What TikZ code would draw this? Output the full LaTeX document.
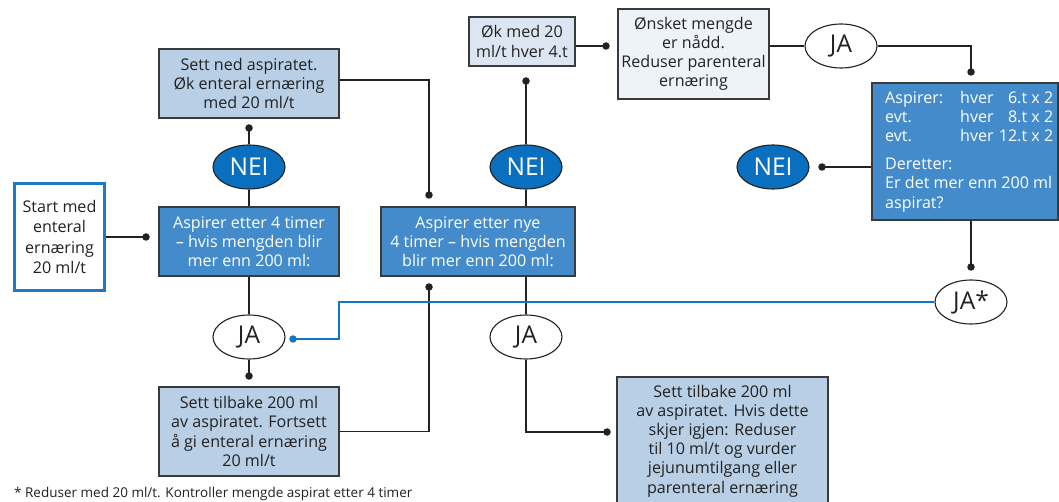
\documentclass[tikz,border=0pt]{standalone}
\usepackage{fontspec}
\setmainfont{Open Sans}
\usetikzlibrary{shapes.geometric}
\definecolor{lightbox}{HTML}{B8CFE6}
\definecolor{midbox}{HTML}{438BCA}
\definecolor{paleA}{HTML}{DCE6F2}
\definecolor{paleB}{HTML}{EEF3F9}
\definecolor{neiblue}{HTML}{0A6FBF}
\definecolor{lineblue}{HTML}{1376C4}
\definecolor{startblue}{HTML}{1C7AC6}
\definecolor{boxline}{HTML}{3A3A3A}
\definecolor{txt}{HTML}{222222}
\newcommand{\bodyfont}{\fontsize{16.1}{19.2}\selectfont}
\begin{document}
\begin{tikzpicture}[x=1pt,y=-1pt,
  every node/.style={font=\bodyfont, align=center, inner sep=0pt, text=txt},
  box/.style={rectangle, draw=boxline, line width=1.3pt},
  lbox/.style={box, fill=lightbox},
  mbox/.style={box, fill=midbox, text=white},
  conn/.style={draw=txt, line width=1.3pt},
  dot/.style={circle, fill=txt, minimum size=7.5pt, inner sep=0pt},
  bdot/.style={circle, fill=lineblue, minimum size=7.5pt, inner sep=0pt},
  bline/.style={draw=lineblue, line width=2.9pt},
  nei/.style={ellipse, draw=txt, line width=1.1pt, fill=neiblue, text=white,
    minimum width=72pt, minimum height=44pt, font=\fontsize{24.5}{24.5}\selectfont},
  ja/.style={ellipse, draw=txt, line width=1.1pt, fill=white,
    minimum width=72pt, minimum height=44pt, font=\fontsize{24.5}{24.5}\selectfont}
]
\useasboundingbox (0,0) rectangle (1059,502);
\fill[white] (0,0) rectangle (1059,502);

% left column
\node[box, draw=startblue, line width=2.4pt, fill=white, minimum width=90pt, minimum height=107pt,
  font=\fontsize{16.1}{20.6}\selectfont] (start) at (59.5,237) {Start med\\enteral\\ernæring\\20 ml/t};
\node[lbox, minimum width=180pt, minimum height=69pt] (setned) at (249,83.5) {Sett ned aspiratet.\\Øk enteral ernæring\\med 20 ml/t};
\node[nei] (nei1) at (249,167) {NEI};
\node[mbox, minimum width=180pt, minimum height=69pt] (asp1) at (249,241.5) {Aspirer etter 4 timer\\– hvis mengden blir\\mer enn 200 ml:};
\node[ja] (ja1) at (249,337) {JA};
\node[lbox, minimum width=180pt, minimum height=89pt] (tilbake) at (249,431.5) {Sett tilbake 200 ml\\av aspiratet. Fortsett\\å gi enteral ernæring\\20 ml/t};

% middle column
\node[mbox, minimum width=194pt, minimum height=69pt] (asp2) at (478,241.5) {Aspirer etter nye\\4 timer – hvis mengden\\blir mer enn 200 ml:};
\node[nei] (nei2) at (526,167) {NEI};
\node[ja] (ja2) at (526,337) {JA};
\node[box, fill=paleA, minimum width=106pt, minimum height=49pt] (oek) at (522,41.5) {Øk med 20\\ml/t hver 4.t};
\node[box, fill=paleB, minimum width=151pt, minimum height=90pt] (onsket) at (693.5,54) {Ønsket mengde\\er nådd.\\Reduser parenteral\\ernæring};
\node[lbox, minimum width=211pt, minimum height=128pt] (final) at (722.5,441) {Sett tilbake 200 ml\\av aspiratet. Hvis dette\\skjer igjen: Reduser\\til 10 ml/t og vurder\\jejunumtilgang eller\\parenteral ernæring};

% right column
\node[ja] (ja3) at (841,46) {JA};
\node[mbox, minimum width=186pt, minimum height=137pt] (big) at (965,151.5) {};
\node[anchor=west, align=left, text=white] (bigtext) at (885,151.5)
  {\makebox[75pt][l]{Aspirer:}\makebox[35pt][l]{hver}\makebox[58pt][r]{6.t x 2}\\
   \makebox[75pt][l]{evt.}\makebox[35pt][l]{hver}\makebox[58pt][r]{8.t x 2}\\
   \makebox[75pt][l]{evt.}\makebox[35pt][l]{hver}\makebox[58pt][r]{12.t x 2}\\[9pt]
   Deretter:\\Er det mer enn 200 ml\\aspirat?};
\node[nei] (nei3) at (773,167) {NEI};
\node[ja] (jastar) at (971,302) {JA*};

% dots
\node[dot] (d1) at (146,237) {};
\node[dot] (d2) at (249,128) {};
\node[dot] (d3) at (249,376) {};
\node[dot] (d4) at (429,195) {};
\node[dot] (d5) at (429,287) {};
\node[dot] (d7) at (526,81) {};
\node[dot] (d8) at (607,432) {};
\node[dot] (d9) at (606,46) {};
\node[dot] (d10) at (971,72) {};
\node[dot] (d11) at (822,167) {};
\node[dot] (d12) at (971,267) {};
\node[bdot] (d6) at (293,339) {};
\coordinate (bturn) at (339,302);

% connectors
\draw[conn] (start.east) -- (d1.center);
\draw[conn] (d2.center) -- (nei1.north);
\draw[conn] (nei1.south) -- (asp1.north);
\draw[conn] (asp1.south) -- (ja1.north);
\draw[conn] (ja1.south) -- (d3.center);
\draw[conn] (setned.east |- 0,80) -| (d4.center);
\draw[conn] (tilbake.east) -| (d5.center);
\draw[conn] (d7.center) -- (nei2.north);
\draw[conn] (nei2.south) -- (nei2.south |- asp2.north);
\draw[conn] (ja2.north |- asp2.south) -- (ja2.north);
\draw[conn] (ja2.south) |- (d8.center);
\draw[conn] (oek.east |- d9) -- (d9.center);
\draw[conn] (onsket.east |- ja3.west) -- (ja3.west);
\draw[conn] (ja3.east) -| (d10.center);
\draw[conn] (big.west |- d11) -- (d11.center);
\draw[conn] (d12 |- big.south) -- (d12.center);
\draw[bline] (d6.center) -| (bturn) -- (jastar.west);

% footnote
\node[anchor=base west, font=\fontsize{13.5}{16}\selectfont] (foot) at (14,497) {* Reduser med 20 ml/t. Kontroller mengde aspirat etter 4 timer};
\end{tikzpicture}
\end{document}
